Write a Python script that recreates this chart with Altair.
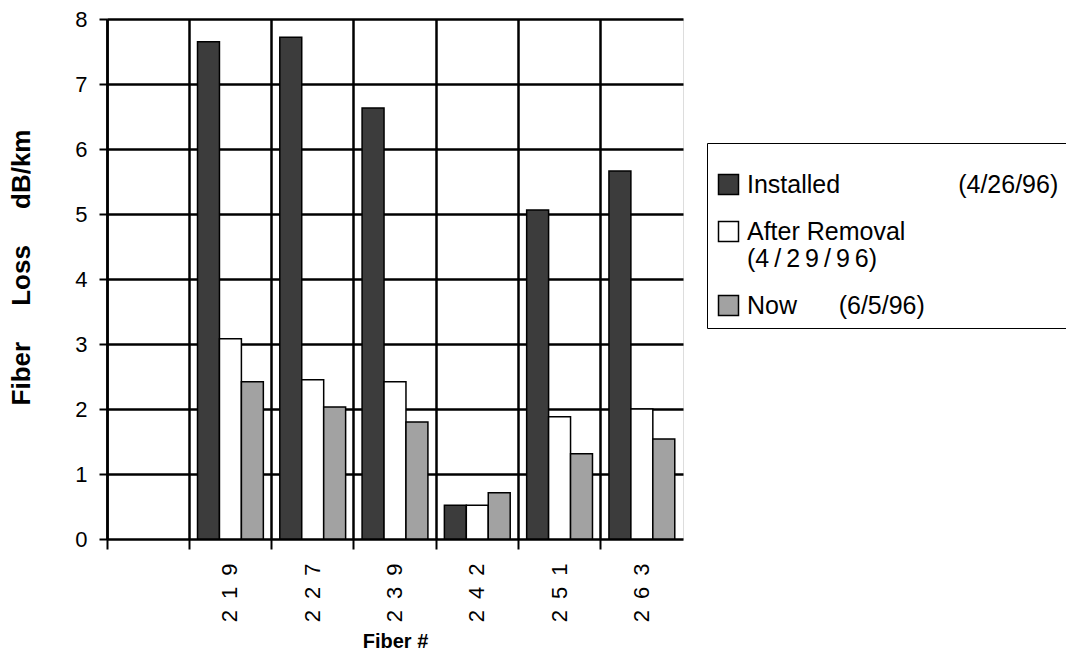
import altair as alt
import pandas as pd

# Fiber loss measured at three dates, per fiber number (dB/km)
fibers = ["219", "227", "239", "242", "251", "263"]
installed = [7.65, 7.72, 6.63, 0.52, 5.06, 5.66]
after_removal = [3.08, 2.45, 2.42, 0.52, 1.88, 2.00]
now = [2.42, 2.03, 1.80, 0.71, 1.31, 1.54]

series = ["Installed", "After Removal", "Now"]
series_colors = ["#3c3c3c", "#ffffff", "#a2a2a2"]

# x slots: the first column of the grid is left empty
x_slots = [""] + fibers

rows = []
for name, vals in zip(series, [installed, after_removal, now]):
    for f, v in zip(fibers, vals):
        rows.append({"fiber": f, "series": name, "loss": v})
df = pd.DataFrame(rows)

NB = "\u00a0"
THIN = "\u2009"
legend_expr = (
    "datum.label == 'Installed' ? 'Installed" + NB * 17 + "(4/26/96)' : "
    "datum.label == 'After Removal' ? ['After Removal', '(" + THIN.join("4/29/96") + ")'] : "
    "'Now" + NB * 6 + "(6/5/96)'"
)

W, H = 576, 520

bars = alt.Chart(df).mark_bar(stroke="black", strokeWidth=1.5).encode(
    x=alt.X(
        "fiber:N",
        scale=alt.Scale(domain=x_slots, paddingInner=0, paddingOuter=0),
        axis=alt.Axis(
            title="Fiber #",
            titleFont="Liberation Sans",
            titleFontSize=20,
            titleFontWeight="bold",
            titleColor="black",
            titleY=92,
            bandPosition=0,
            grid=True,
            gridColor="black",
            gridWidth=2.5,
            domain=False,
            ticks=True,
            tickColor="black",
            tickWidth=2,
            tickSize=10,
            labelAngle=270,
            labelAlign="right",
            labelBaseline="middle",
            labelPadding=14,
            labelFont="Liberation Sans",
            labelFontSize=22,
            labelColor="black",
            labelExpr="join(split(datum.label, ''), '\u2002')",
        ),
    ),
    xOffset=alt.XOffset(
        "series:N",
        sort=series,
        scale=alt.Scale(domain=series, paddingInner=0, paddingOuter=0.375),
    ),
    y=alt.Y(
        "loss:Q",
        scale=alt.Scale(domain=[0, 8], nice=False),
        axis=alt.Axis(
            title="Fiber" + NB * 5 + "Loss" + NB * 5 + "dB/km",
            titleFont="Liberation Sans",
            titleFontSize=26,
            titleFontWeight="bold",
            titleColor="black",
            titleAngle=270,
            titleX=-86,
            titleY=248,
            titleAlign="center",
            titleBaseline="middle",
            values=[0, 1, 2, 3, 4, 5, 6, 7, 8],
            grid=True,
            gridColor="black",
            gridWidth=2.5,
            domain=True,
            domainColor="black",
            domainWidth=2.5,
            tickColor="black",
            tickWidth=2,
            tickSize=8,
            labelPadding=12,
            labelFont="Liberation Sans",
            labelFontSize=22,
            labelColor="black",
        ),
    ),
    fill=alt.Fill(
        "series:N",
        sort=series,
        scale=alt.Scale(domain=series, range=series_colors),
        legend=alt.Legend(
            title=NB,
            titleFontSize=14,
            titlePadding=6,
            orient="none",
            legendX=600,
            legendY=124,
            padding=9,
            rowPadding=20,
            strokeColor="black",
            symbolType="square",
            symbolSize=400,
            symbolStrokeColor="black",
            symbolStrokeWidth=1.5,
            symbolOpacity=1,
            labelFont="Liberation Sans",
            labelFontSize=25,
            labelColor="black",
            labelLimit=420,
            labelOffset=6,
            labelExpr=legend_expr,
        ),
    ),
)

chart = bars.properties(
    width=W,
    height=H,
    autosize=alt.AutoSizeParams(type="none"),
    padding={"left": 107, "top": 19, "right": 1066 - 107 - W, "bottom": 665 - 19 - H},
).configure_view(
    stroke="black", strokeWidth=2.5
).configure_legend(
    strokeWidth=2
).configure(background="white")

chart.save("out.html", embed_options={"renderer": "svg", "actions": False})
